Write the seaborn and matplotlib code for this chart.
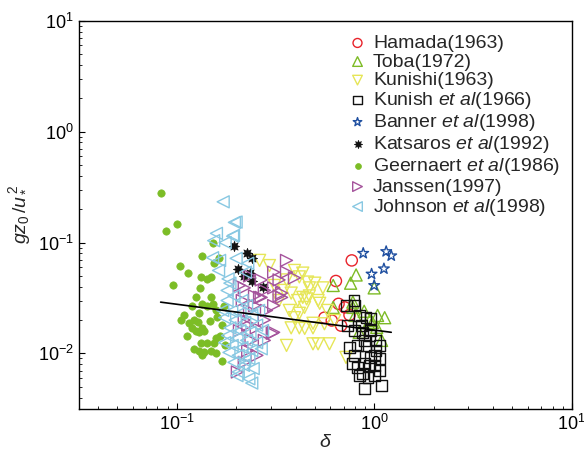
import numpy as np
import pandas as pd
import matplotlib
matplotlib.use("Agg")
import matplotlib.pyplot as plt
import seaborn as sns

# ---------------- data ----------------
hamada_x = [0.77, 0.64, 0.66, 0.71, 0.56, 0.61, 0.68, 0.75]
hamada_y = [0.069, 0.045, 0.028, 0.026, 0.021, 0.0198, 0.0178, 0.0222]

toba_x = [0.81, 0.62, 0.76, 1.0, 0.62, 0.78, 0.80, 1.04, 1.13, 0.95, 1.03, 0.84, 1.09, 0.98, 0.78, 0.89]
toba_y = [0.051, 0.041, 0.043, 0.039, 0.026, 0.026, 0.022, 0.022, 0.021, 0.0198, 0.0172, 0.0155, 0.0131, 0.019, 0.029, 0.024]

kunishi_x = [0.263, 0.418, 0.46, 0.395, 0.36, 0.47, 0.435, 0.38, 0.36, 0.49, 0.418, 0.49, 0.41, 0.455,
             0.38, 0.445, 0.435, 0.50, 0.55, 0.47, 0.53, 0.444, 0.49, 0.56, 0.52, 0.594, 0.72, 0.295,
             0.33, 0.372, 0.395, 0.418, 0.35, 0.52, 0.58, 0.63, 0.313]
kunishi_y = [0.069, 0.049, 0.044, 0.056, 0.046, 0.039, 0.032, 0.035, 0.0118, 0.0122, 0.017, 0.017, 0.030, 0.031,
             0.017, 0.0168, 0.053, 0.043, 0.039, 0.033, 0.0283, 0.026, 0.0187, 0.0185, 0.0122, 0.0122, 0.0092, 0.062,
             0.030, 0.0244, 0.021, 0.023, 0.037, 0.030, 0.0244, 0.0198, 0.041]

kunish_x = [0.79, 0.725, 0.795, 0.84, 0.91, 0.96, 0.73, 0.795, 0.87, 0.96, 1.02, 0.82, 0.91, 1.02, 0.96, 1.06,
            0.89, 1.00, 0.84, 0.93, 1.00, 0.89, 1.09, 0.75, 0.795, 0.82, 0.87, 0.78, 0.86, 0.95, 0.89, 1.06,
            1.00, 0.95, 1.06]
kunish_y = [0.030, 0.027, 0.027, 0.022, 0.021, 0.0205, 0.0178, 0.0161, 0.0155, 0.0161, 0.0131, 0.0118, 0.0118,
            0.0106, 0.0092, 0.0090, 0.0081, 0.0078, 0.0063, 0.0061, 0.0063, 0.0048, 0.0051, 0.0113, 0.0096,
            0.0075, 0.0066, 0.0081, 0.0179, 0.0145, 0.0131, 0.0118, 0.0096, 0.0078, 0.0070]

banner_x = [0.88, 1.15, 1.22, 0.97, 1.12, 1.00]
banner_y = [0.080, 0.083, 0.076, 0.052, 0.058, 0.041]

katsaros_x = [0.196, 0.226, 0.24, 0.204, 0.234, 0.22, 0.24, 0.275]
katsaros_y = [0.094, 0.081, 0.073, 0.058, 0.053, 0.050, 0.045, 0.040]

geernaert_x = [0.083, 0.101, 0.088, 0.135, 0.104, 0.114, 0.133, 0.143, 0.150, 0.096, 0.131, 0.163, 0.155,
               0.152, 0.125, 0.135, 0.150, 0.152, 0.142, 0.130, 0.109, 0.105, 0.123, 0.128, 0.120, 0.135,
               0.125, 0.130, 0.138, 0.113, 0.165, 0.159, 0.133, 0.142, 0.155, 0.123, 0.130, 0.138, 0.150,
               0.159, 0.135, 0.169, 0.169, 0.161, 0.159, 0.116, 0.147, 0.175, 0.173, 0.119]
geernaert_y = [0.282, 0.148, 0.128, 0.076, 0.062, 0.053, 0.049, 0.047, 0.049, 0.041, 0.039, 0.073, 0.065,
               0.100, 0.032, 0.028, 0.032, 0.028, 0.027, 0.023, 0.022, 0.020, 0.020, 0.019, 0.017, 0.017,
               0.016, 0.0155, 0.016, 0.0143, 0.0145, 0.0137, 0.0125, 0.0125, 0.0123, 0.0110, 0.0106, 0.0102,
               0.0106, 0.0100, 0.0096, 0.0085, 0.0179, 0.0211, 0.0244, 0.0187, 0.0198, 0.0118, 0.027, 0.027]

janssen_x = [0.36, 0.31, 0.33, 0.31, 0.33, 0.263, 0.208, 0.220, 0.248, 0.278, 0.34, 0.395, 0.268, 0.31, 0.34,
             0.278, 0.31, 0.278, 0.229, 0.220, 0.203, 0.305, 0.253, 0.234, 0.248, 0.215, 0.285, 0.268, 0.234,
             0.220, 0.238, 0.255, 0.229, 0.36, 0.208]
janssen_y = [0.069, 0.054, 0.046, 0.039, 0.033, 0.032, 0.041, 0.039, 0.033, 0.037, 0.035, 0.048, 0.032, 0.027,
             0.032, 0.020, 0.0155, 0.0131, 0.018, 0.0083, 0.0068, 0.0152, 0.017, 0.0244, 0.027, 0.030, 0.0244,
             0.046, 0.050, 0.020, 0.0131, 0.0096, 0.0106, 0.054, 0.016]

johnson_x = [0.172, 0.20, 0.159, 0.154, 0.194, 0.176, 0.152, 0.20, 0.229, 0.223, 0.196, 0.192, 0.182, 0.186,
             0.165, 0.163, 0.180, 0.195, 0.214, 0.180, 0.226, 0.190, 0.209, 0.240, 0.175, 0.198, 0.221, 0.254,
             0.186, 0.209, 0.235, 0.181, 0.202, 0.226, 0.254, 0.191, 0.214, 0.240, 0.268, 0.184, 0.205, 0.232,
             0.195, 0.218, 0.244, 0.205, 0.232, 0.240, 0.202, 0.221, 0.175, 0.272, 0.260, 0.171]
johnson_y = [0.233, 0.153, 0.121, 0.104, 0.116, 0.100, 0.073, 0.072, 0.065, 0.054, 0.152, 0.114, 0.047, 0.043,
             0.069, 0.056, 0.037, 0.033, 0.030, 0.030, 0.027, 0.024, 0.023, 0.022, 0.021, 0.020, 0.019, 0.018,
             0.017, 0.016, 0.0155, 0.0145, 0.0137, 0.0131, 0.0125, 0.0118, 0.0113, 0.0106, 0.0110, 0.0102,
             0.0096, 0.0090, 0.0083, 0.0078, 0.0073, 0.0068, 0.0059, 0.0054, 0.0063, 0.0086, 0.0125, 0.0161,
             0.0244, 0.0244]

fit_x = [0.083, 1.22]
fit_y = [0.029, 0.0155]

labels = ["Hamada(1963)", "Toba(1972)", "Kunishi(1963)", r"Kunish $\it{et\ al}$(1966)",
          r"Banner $\it{et\ al}$(1998)", r"Katsaros $\it{et\ al}$(1992)",
          r"Geernaert $\it{et\ al}$(1986)", "Janssen(1997)", r"Johnson $\it{et\ al}$(1998)"]

# ---------------- style ----------------
sns.set_theme(style="white")
plt.rcParams["font.family"] = ["Liberation Sans", "DejaVu Sans"]
plt.rcParams["mathtext.fontset"] = "custom"
plt.rcParams["mathtext.rm"] = "Liberation Sans"
plt.rcParams["mathtext.it"] = "Liberation Sans:italic"
plt.rcParams["mathtext.bf"] = "Liberation Sans:bold"

fig = plt.figure(figsize=(5.84, 4.63), dpi=100)
ax = fig.add_axes([0.135, 0.117, 0.844, 0.838])

series = [
    (hamada_x, hamada_y, "o", "#e8232b", False, 65),
    (toba_x, toba_y, "^", "#7dbb25", False, 75),
    (kunishi_x, kunishi_y, "v", "#e6e658", False, 75),
    (kunish_x, kunish_y, "s", "#111111", False, 60),
    (banner_x, banner_y, "*", "#1f4fa0", False, 65),
    (katsaros_x, katsaros_y, (8, 1, 0), "#111111", True, 55),
    (geernaert_x, geernaert_y, "o", "#7cbd26", True, 28),
    (janssen_x, janssen_y, ">", "#a5549c", False, 75),
    (johnson_x, johnson_y, "<", "#88c8e2", False, 75),
]

for (xs, ys, mk, col, filled, s), lab in zip(series, labels):
    df = pd.DataFrame({"x": xs, "y": ys})
    if filled:
        sns.scatterplot(data=df, x="x", y="y", ax=ax, marker=mk, s=s, color=col,
                        edgecolor=col, linewidth=0.5, label=lab, zorder=3)
    else:
        sns.scatterplot(data=df, x="x", y="y", ax=ax, marker=mk, s=s, color=col,
                        facecolor="none", edgecolor=col, linewidth=1.0, label=lab, zorder=3)

sns.lineplot(x=fit_x, y=fit_y, ax=ax, color="black", linewidth=1.2, zorder=5, legend=False)

ax.set_xscale("log")
ax.set_yscale("log")
ax.set_xlim(10 ** -1.495, 10)
ax.set_ylim(10 ** -2.5, 10)

for sp in ax.spines.values():
    sp.set_color("black")
    sp.set_linewidth(1.0)

ax.tick_params(which="both", direction="in", top=False, right=False, left=True, bottom=True,
               labelsize=13, colors="black")
ax.tick_params(which="major", length=4.5, width=0.8)
ax.tick_params(which="minor", length=2.5, width=0.6)

ax.set_xlabel(r"$\delta$", fontsize=14, labelpad=0)
ax.set_ylabel(r"$gz_0\,/u_*^{\,2}$", fontsize=14, labelpad=4)

leg = ax.legend(loc="upper left", bbox_to_anchor=(0.52, 0.995), frameon=False, fontsize=14,
                handletextpad=0.25, labelspacing=0.05, borderaxespad=0.2, handlelength=1.1,
                markerscale=0.8)

fig.savefig("out.png", dpi=100)
